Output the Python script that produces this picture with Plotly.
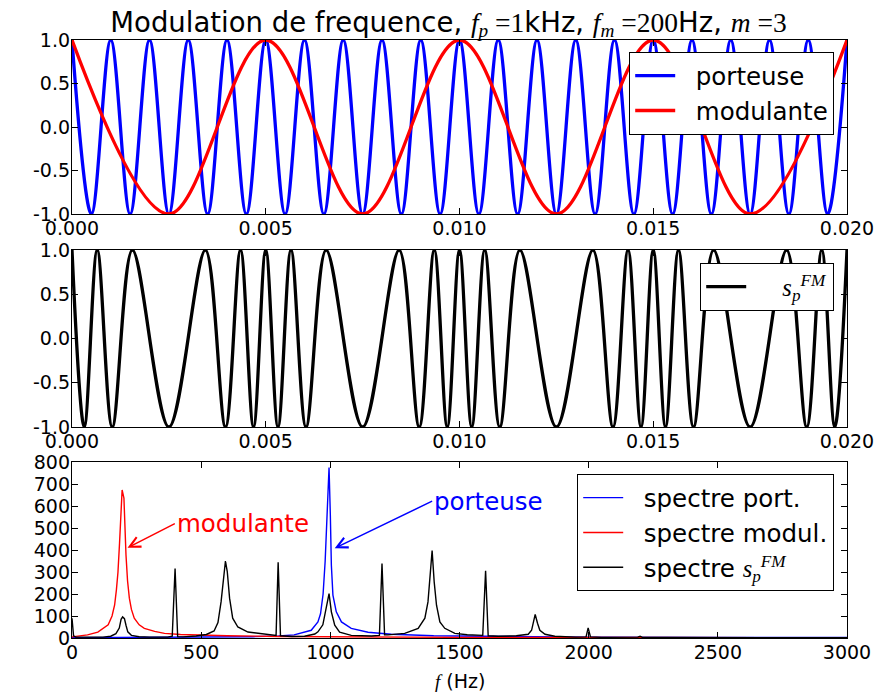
import plotly.graph_objects as go

# ---------------- data ----------------
# top panel: extrema of the carrier (porteuse) and of the modulating signal (ms)
t_port_ms = [0.0, 0.5, 1.0, 1.5, 2.0, 2.5, 3.0, 3.5, 4.0, 4.5,
             5.0, 5.5, 6.0, 6.5, 7.0, 7.5, 8.0, 8.5, 9.0, 9.5,
             10.0, 10.5, 11.0, 11.5, 12.0, 12.5, 13.0, 13.5, 14.0, 14.5,
             15.0, 15.5, 16.0, 16.5, 17.0, 17.5, 18.0, 18.5, 19.0, 19.5, 20.0]
v_port = [1, -1, 1, -1, 1, -1, 1, -1, 1, -1,
          1, -1, 1, -1, 1, -1, 1, -1, 1, -1,
          1, -1, 1, -1, 1, -1, 1, -1, 1, -1,
          1, -1, 1, -1, 1, -1, 1, -1, 1, -1, 1]

t_mod_ms = [0.0, 2.5, 5.0, 7.5, 10.0, 12.5, 15.0, 17.5, 20.0]
v_mod = [1, -1, 1, -1, 1, -1, 1, -1, 1]

# middle panel: extrema of the FM signal (ms)
t_fm_ms = [0.0, 0.316, 0.651, 1.039, 1.558, 2.5, 3.442, 3.961, 4.349, 4.684,
           5.0, 5.316, 5.651, 6.039, 6.558, 7.5, 8.442, 8.961, 9.349, 9.684,
           10.0, 10.316, 10.651, 11.039, 11.558, 12.5, 13.442, 13.961, 14.349, 14.684,
           15.0, 15.316, 15.651, 16.039, 16.558, 17.5, 18.442, 18.961, 19.349, 19.684, 20.0]
v_fm = [1, -1, 1, -1, 1, -1, 1, -1, 1, -1,
        1, -1, 1, -1, 1, -1, 1, -1, 1, -1,
        1, -1, 1, -1, 1, -1, 1, -1, 1, -1,
        1, -1, 1, -1, 1, -1, 1, -1, 1, -1, 1]

# bottom panel: spectra (frequency in Hz, magnitude)
f_port = [0, 300, 500, 700, 800, 860, 926, 952, 962, 972, 980, 986, 991, 995,
          1000, 1004, 1010, 1023, 1043, 1081, 1146, 1236, 1400, 1600, 2000, 2500, 3000]
a_port = [1, 2, 3, 6, 9, 14, 35, 73, 110, 200, 350, 520, 700, 775,
          560, 331, 195, 119, 73, 44, 26, 17, 10, 7, 4, 3, 2]

f_mod = [0, 30, 60, 100, 140, 155, 165, 172, 178, 184, 189, 194, 201, 205, 209,
         215, 222, 230, 241, 260, 280, 320, 358, 420, 487, 600, 800, 1000,
         1500, 2000, 2500, 3000]
a_mod = [5, 8, 14, 27, 60, 100, 150, 220, 300, 430, 600, 673, 636, 500, 377,
         260, 181, 130, 90, 60, 44, 30, 21, 16, 13, 10, 7, 5,
         3, 2, 2, 1]

f_fm = [0, 6, 15, 60, 120, 150, 170, 183, 190, 196, 203, 209, 216, 230, 260, 300,
        370, 388, 399, 409, 430, 480, 520, 550, 565, 577, 588, 594, 601, 610, 622,
        642, 681, 733, 778, 790, 798, 807, 850, 900, 940, 952, 971, 984, 995, 1004,
        1017, 1036, 1081, 1159, 1190, 1200, 1210, 1223, 1288, 1340, 1366, 1378,
        1388, 1394, 1402, 1411, 1424, 1443, 1482, 1530, 1590, 1601, 1611, 1650,
        1720, 1766, 1779, 1786, 1793, 1802, 1811, 1831, 1869, 1950, 1990, 1998,
        2007, 2050, 2190, 2199, 2208, 2300, 2395, 2400, 2405, 2600, 3000]
a_fm = [90, 10, 4, 3, 4, 8, 20, 45, 85, 96, 88, 58, 28, 12, 6, 4,
        4, 8, 316, 6, 5, 9, 16, 32, 70, 164, 290, 350, 302, 181, 90,
        50, 27, 19, 13, 12, 344, 10, 7, 8, 18, 28, 60, 135, 202, 119,
        58, 27, 12, 9, 12, 339, 14, 14, 21, 44, 90, 164,
        300, 397, 255, 149, 73, 44, 21, 15, 12, 306, 10, 8,
        10, 17, 35, 73, 107, 67, 35, 17, 8, 4, 5, 46,
        5, 3, 4, 8, 3, 2, 2, 4, 1, 1, 1]

x_ticks_t = [0.0, 0.005, 0.010, 0.015, 0.020]
x_ticklabels_t = ["0.000", "0.005", "0.010", "0.015", "0.020"]
y_ticks_t = [-1.0, -0.5, 0.0, 0.5, 1.0]
y_ticklabels_t = ["-1.0", "-0.5", "0.0", "0.5", "1.0"]
x_ticks_f = [0, 500, 1000, 1500, 2000, 2500, 3000]
y_ticks_f = [0, 100, 200, 300, 400, 500, 600, 700, 800]

# ---------------- figure ----------------
OFF = 8                      # default page margin of the html body
W, H = 895 - OFF, 695 - OFF
L, R, T, B = 72 - OFF, 48, 40 - OFF, 57
PLOT_TOP, PLOT_BOT = 40, 638  # page pixels
ph = PLOT_BOT - PLOT_TOP
pw = 895 - 72 - 48


def ydom(top_px, bot_px):
    return [(PLOT_BOT - bot_px) / ph, (PLOT_BOT - top_px) / ph]


def ms(v):
    return [x / 1000.0 for x in v]


SERIF = "Liberation Serif"


def ser(s):
    return "<span style='font-family:" + SERIF + "'>" + s + "</span>"


BLUE, RED, BLACK = "#0000ff", "#ff0000", "#000000"
TW = 3.3   # time signals line width
SW = 1.4   # spectra line width
NB = "\u00a0\u00a0"
SFM = ser("<i>s</i><sub><i>p</i></sub><sup><i>FM</i></sup>")

fig = go.Figure()

fig.add_trace(go.Scatter(x=ms(t_port_ms), y=v_port, mode="lines", name=NB + "porteuse",
                         line=dict(color=BLUE, width=TW, shape="spline", smoothing=1),
                         xaxis="x", yaxis="y", legend="legend"))
fig.add_trace(go.Scatter(x=ms(t_mod_ms), y=v_mod, mode="lines", name=NB + "modulante",
                         line=dict(color=RED, width=TW, shape="spline", smoothing=1),
                         xaxis="x", yaxis="y", legend="legend"))
fig.add_trace(go.Scatter(x=ms(t_fm_ms), y=v_fm, mode="lines",
                         name=NB + NB + SFM,
                         line=dict(color=BLACK, width=TW, shape="spline", smoothing=1),
                         xaxis="x2", yaxis="y2", legend="legend2"))
fig.add_trace(go.Scatter(x=f_port, y=a_port, mode="lines", name=NB + "spectre port.",
                         line=dict(color=BLUE, width=SW),
                         xaxis="x3", yaxis="y3", legend="legend3"))
fig.add_trace(go.Scatter(x=f_mod, y=a_mod, mode="lines", name=NB + "spectre modul.",
                         line=dict(color=RED, width=SW),
                         xaxis="x3", yaxis="y3", legend="legend3"))
fig.add_trace(go.Scatter(x=f_fm, y=a_fm, mode="lines",
                         name=NB + "spectre " + SFM,
                         line=dict(color=BLACK, width=SW),
                         xaxis="x3", yaxis="y3", legend="legend3"))

TICKFONT = dict(family="DejaVu Sans", size=19, color="black")
axcommon = dict(showline=True, linecolor="black", linewidth=1.3, mirror="ticks",
                ticks="inside", ticklen=6, tickwidth=1.2, tickcolor="black",
                showgrid=False, zeroline=False, tickfont=TICKFONT, automargin=False)
xcommon = dict(ticklabelstandoff=-3, **axcommon)
ycommon = dict(ticklabelstandoff=-3, **axcommon)

LEGX = (834 - 72) / pw
LEGCOMMON = dict(x=LEGX, xanchor="right", yanchor="top", bgcolor="white",
                 bordercolor="black", borderwidth=1.2, itemwidth=40,
                 font=dict(size=24.5, color="black"))

fig.update_layout(
    width=W, height=H,
    margin=dict(l=L, r=R, t=T, b=B),
    paper_bgcolor="white", plot_bgcolor="white",
    font=dict(family="DejaVu Sans", color="black"),
    title=dict(
        text="Modulation de frequence, " + ser("<i>f</i><sub><i>p</i></sub> =1") + "kHz, "
             + ser("<i>f</i><sub><i>m</i></sub> =200") + "Hz, " + ser("<i>m</i> =3"),
        x=(448.5 - 72) / pw, xref="paper", xanchor="center",
        y=1 - (22 - OFF) / H, yref="container", yanchor="middle",
        font=dict(size=27.5, family="DejaVu Sans", color="black")),
    xaxis=dict(domain=[0, 1], range=[0, 0.02], tickvals=x_ticks_t, ticktext=x_ticklabels_t,
               anchor="y", **xcommon),
    yaxis=dict(domain=ydom(40, 214), range=[-1, 1], tickvals=y_ticks_t, ticktext=y_ticklabels_t,
               anchor="x", **ycommon),
    xaxis2=dict(domain=[0, 1], range=[0, 0.02], tickvals=x_ticks_t, ticktext=x_ticklabels_t,
                anchor="y2", **xcommon),
    yaxis2=dict(domain=ydom(250, 427), range=[-1, 1], tickvals=y_ticks_t, ticktext=y_ticklabels_t,
                anchor="x2", **ycommon),
    xaxis3=dict(domain=[0, 1], range=[0, 3000], tickvals=x_ticks_f, anchor="y3", **xcommon),
    yaxis3=dict(domain=ydom(462, 638), range=[0, 800], tickvals=y_ticks_f, anchor="x3",
                **ycommon),
    legend=dict(y=(PLOT_BOT - 52) / ph, **LEGCOMMON),
    legend2=dict(y=(PLOT_BOT - 263) / ph, **LEGCOMMON),
    legend3=dict(y=(PLOT_BOT - 474) / ph, **LEGCOMMON),
    annotations=[
        dict(text=ser("<i>f</i>") + " (Hz)", x=0.5, y=(PLOT_BOT - 681) / ph,
             xref="paper", yref="paper", xanchor="center", yanchor="middle",
             showarrow=False, font=dict(size=19, color="black")),
        dict(text="modulante", x=215, y=410, xref="x3", yref="y3",
             ax=398, ay=520, axref="x3", ayref="y3", xanchor="left", yanchor="middle",
             showarrow=True, arrowhead=5, arrowsize=1.4, arrowwidth=1.5, arrowcolor=RED,
             font=dict(size=24.5, color=RED)),
        dict(text="porteuse", x=1017, y=408, xref="x3", yref="y3",
             ax=1394, ay=622, axref="x3", ayref="y3", xanchor="left", yanchor="middle",
             showarrow=True, arrowhead=5, arrowsize=1.4, arrowwidth=1.5, arrowcolor=BLUE,
             font=dict(size=24.5, color=BLUE)),
    ],
    showlegend=True,
)

fig.write_html("out.html")
